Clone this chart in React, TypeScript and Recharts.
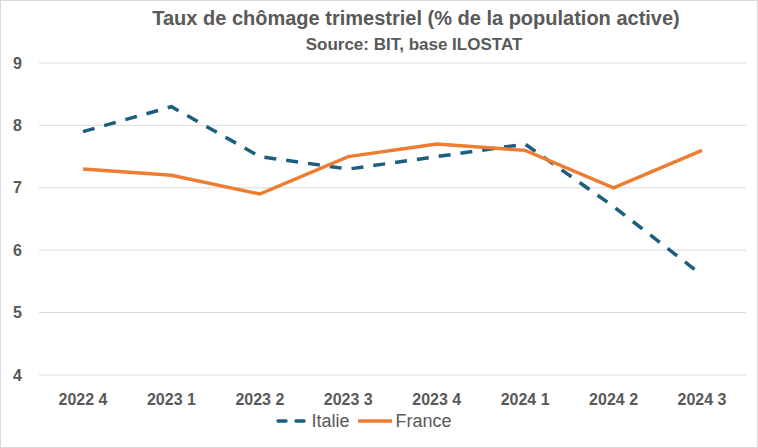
import React from "react";
import { LineChart, Line, XAxis, YAxis, CartesianGrid, Legend } from "recharts";

const quarters = ["2022 4", "2023 1", "2023 2", "2023 3", "2023 4", "2024 1", "2024 2", "2024 3"];
const italie = [7.9, 8.3, 7.5, 7.3, 7.5, 7.7, 6.7, 5.6];
const france = [7.3, 7.2, 6.9, 7.5, 7.7, 7.6, 7.0, 7.6];
const yTicks = [4, 5, 6, 7, 8, 9];

const data = quarters.map((q, i) => ({ q, Italie: italie[i], France: france[i] }));

const FONT = "'Liberation Sans Narrow', 'Arial Narrow', 'Liberation Sans', sans-serif";
const TEXT = "#595959";
const BLUE = "#1B5E7E";
const ORANGE = "#ED7D31";

const LegendContent = () => (
  <div
    style={{
      display: "flex",
      justifyContent: "center",
      alignItems: "center",
      fontFamily: FONT,
      fontSize: 18,
      color: TEXT,
      marginLeft: -20,
      marginTop: 4,
      height: 20,
    }}
  >
    <svg width={34} height={10}>
      <line x1={3} y1={5} x2={31} y2={5} stroke={BLUE} strokeWidth={3.5} strokeDasharray="8 10" strokeLinecap="round" />
    </svg>
    <span style={{ marginLeft: 2, marginRight: 6 }}>Italie</span>
    <svg width={38} height={10}>
      <line x1={2} y1={5} x2={36} y2={5} stroke={ORANGE} strokeWidth={3.5} />
    </svg>
    <span style={{ marginLeft: 2 }}>France</span>
  </div>
);

export default function App() {
  return (
    <div
      style={{
        position: "absolute",
        left: 0,
        top: 0,
        width: 756,
        height: 446,
        border: "1px solid #d9d9d9",
        background: "#fff",
        fontFamily: FONT,
      }}
    >
      <div
        style={{
          position: "absolute",
          left: 0,
          width: 830,
          top: 6,
          textAlign: "center",
          color: TEXT,
          fontWeight: "bold",
          fontSize: 20,
        }}
      >
        Taux de chômage trimestriel (% de la population active)
      </div>
      <div
        style={{
          position: "absolute",
          left: 0,
          width: 826,
          top: 34,
          textAlign: "center",
          color: TEXT,
          fontWeight: "bold",
          fontSize: 17,
        }}
      >
        Source: BIT, base ILOSTAT
      </div>
      <LineChart
        width={756}
        height={446}
        data={data}
        margin={{ top: 62, right: 11, bottom: 20, left: 0 }}
      >
        <CartesianGrid vertical={false} stroke="#d9d9d9" />
        <XAxis
          dataKey="q"
          axisLine={false}
          tickLine={false}
          padding={{ left: 44, right: 44 }}
          interval={0}
          height={32}
          tick={{ fill: TEXT, fontSize: 16, fontWeight: "bold", fontFamily: FONT, dy: 11 }}
        />
        <YAxis
          domain={[4, 9]}
          ticks={yTicks}
          axisLine={false}
          tickLine={false}
          width={38}
          tick={{ fill: TEXT, fontSize: 16, fontWeight: "bold", fontFamily: FONT, dx: -9 }}
        />
        <Legend verticalAlign="bottom" height={20} content={<LegendContent />} />
        <Line
          dataKey="Italie"
          stroke={BLUE}
          strokeWidth={3.5}
          strokeDasharray="12 10"
          dot={false}
          isAnimationActive={false}
        />
        <Line
          dataKey="France"
          stroke={ORANGE}
          strokeWidth={3.5}
          dot={false}
          isAnimationActive={false}
        />
      </LineChart>
    </div>
  );
}
